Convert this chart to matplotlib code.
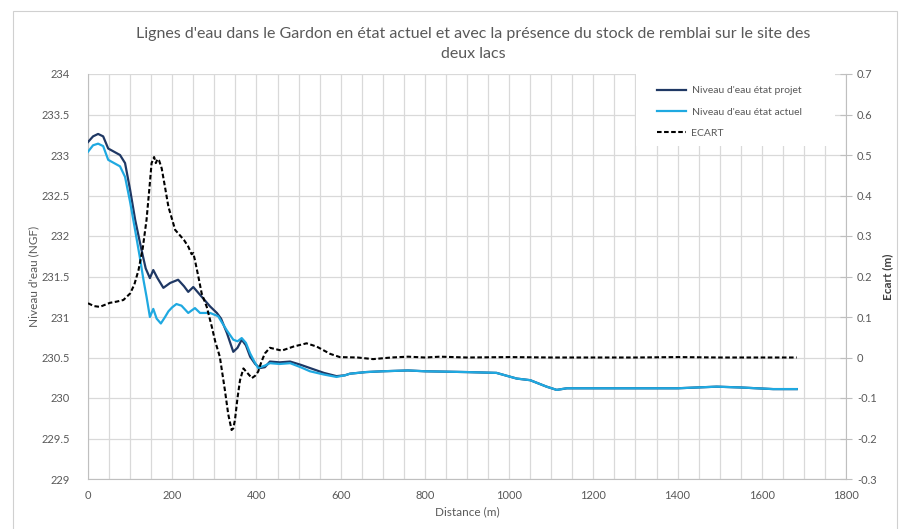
import matplotlib
matplotlib.use("Agg")
import matplotlib.pyplot as plt
from matplotlib.patches import Rectangle
from matplotlib.lines import Line2D
import numpy as np

plt.rcParams['font.family'] = ['Lato', 'DejaVu Sans']

title = "Lignes d'eau dans le Gardon en état actuel et avec la présence du stock de remblai sur le site des\ndeux lacs"

dist_projet = [0, 12, 24, 36, 48, 62, 76, 88, 100, 112, 127, 137, 147, 155, 165, 179, 195, 214, 228,
               238, 250, 270, 290, 306, 316, 330, 345, 355, 365, 375, 385, 397, 408, 420, 432, 455,
               480, 505, 527, 560, 590, 610, 622, 660, 700, 760, 800, 900, 970, 1018, 1050, 1089,
               1113, 1137, 1200, 1300, 1400, 1493, 1550, 1588, 1627, 1683]
niveau_projet = [233.16, 233.23, 233.26, 233.23, 233.08, 233.04, 233.00, 232.90, 232.57, 232.20,
                 231.83, 231.60, 231.48, 231.58, 231.48, 231.36, 231.42, 231.46, 231.38, 231.31,
                 231.37, 231.25, 231.13, 231.05, 230.98, 230.80, 230.57, 230.62, 230.72, 230.65,
                 230.51, 230.42, 230.37, 230.38, 230.45, 230.44, 230.45, 230.41, 230.37, 230.31,
                 230.27, 230.28, 230.30, 230.32, 230.33, 230.34, 230.33, 230.32, 230.31, 230.24,
                 230.22, 230.14, 230.10, 230.12, 230.12, 230.12, 230.12, 230.14, 230.13, 230.12,
                 230.11, 230.11]

dist_actuel = [0, 12, 24, 36, 48, 62, 76, 88, 100, 112, 123, 132, 139, 147, 155, 163, 173, 183, 191,
               200, 210, 222, 238, 254, 266, 290, 309, 329, 345, 355, 365, 375, 385, 395, 404, 420,
               432, 455, 480, 505, 527, 560, 590, 610, 622, 660, 700, 760, 800, 900, 970, 1018, 1050,
               1089, 1113, 1137, 1200, 1300, 1400, 1493, 1550, 1588, 1627, 1683]
niveau_actuel = [233.04, 233.12, 233.14, 233.11, 232.94, 232.90, 232.86, 232.73, 232.42, 232.07,
                 231.74, 231.45, 231.25, 231.00, 231.10, 230.98, 230.92, 231.00, 231.07, 231.12,
                 231.16, 231.14, 231.05, 231.11, 231.05, 231.05, 231.01, 230.84, 230.72, 230.70,
                 230.74, 230.68, 230.55, 230.45, 230.37, 230.40, 230.43, 230.42, 230.43, 230.38,
                 230.33, 230.29, 230.26, 230.28, 230.30, 230.32, 230.33, 230.34, 230.33, 230.32,
                 230.31, 230.24, 230.22, 230.14, 230.10, 230.12, 230.12, 230.12, 230.12, 230.14,
                 230.13, 230.12, 230.11, 230.11]

dist_ecart = [0, 14, 28, 40, 52, 68, 84, 100, 110, 120, 130, 139, 146, 151, 157, 161, 165, 169, 175,
              183, 191, 200, 207, 218, 228, 238, 246, 250, 254, 262, 270, 282, 294, 302, 313, 325,
              333, 341, 345, 349, 355, 361, 369, 380, 389, 397, 404, 412, 420, 432, 460, 488, 519,
              543, 575, 598, 640, 677, 720, 760, 800, 836, 900, 1000, 1100, 1200, 1300, 1400, 1500,
              1600, 1683]
ecart = [0.134, 0.127, 0.125, 0.130, 0.135, 0.138, 0.142, 0.158, 0.180, 0.216, 0.270, 0.340, 0.420,
         0.480, 0.495, 0.480, 0.490, 0.486, 0.467, 0.420, 0.372, 0.340, 0.315, 0.302, 0.290, 0.274,
         0.255, 0.258, 0.240, 0.200, 0.158, 0.125, 0.076, 0.040, 0.002, -0.080, -0.140, -0.179,
         -0.175, -0.154, -0.100, -0.056, -0.027, -0.040, -0.051, -0.045, -0.035, -0.010, 0.010,
         0.024, 0.017, 0.027, 0.035, 0.027, 0.009, 0.001, 0.000, -0.004, 0.000, 0.002, 0.000, 0.002,
         0.000, 0.001, 0.000, 0.000, 0.000, 0.001, 0.000, 0.000, 0.000]

left_ticks = [229, 229.5, 230, 230.5, 231, 231.5, 232, 232.5, 233, 233.5, 234]
left_labels = ["229", "229.5", "230", "230.5", "231", "231.5", "232", "232.5", "233", "233.5", "234"]
right_ticks = [-0.3, -0.2, -0.1, 0, 0.1, 0.2, 0.3, 0.4, 0.5, 0.6, 0.7]
right_labels = ["-0.3", "-0.2", "-0.1", "0", "0.1", "0.2", "0.3", "0.4", "0.5", "0.6", "0.7"]
x_ticks = [0, 200, 400, 600, 800, 1000, 1200, 1400, 1600, 1800]

GRAY = "#595959"
GRID = "#d9d9d9"
DARK = "#1f3864"
LIGHT = "#1fa9e1"
DASH = (0, (2.2, 1.2))

fig = plt.figure(figsize=(9.1, 5.29), dpi=100)
fig.patches.append(Rectangle((13 / 910, -0.01), 884 / 910, 1 - 11 / 529 + 0.01,
                             transform=fig.transFigure, fill=False, edgecolor="#d0d0d0", lw=0.8))
AX_L, AX_R, AX_T, AX_B = 88, 846, 74, 479
ax = fig.add_axes([AX_L / 910, 1 - AX_B / 529, (AX_R - AX_L) / 910, (AX_B - AX_T) / 529])
ax2 = ax.twinx()


def axfrac_x(px):
    return (px - AX_L) / (AX_R - AX_L)


def axfrac_y(py):
    return (AX_B - py) / (AX_B - AX_T)


ax.plot(dist_projet, niveau_projet, color=DARK, lw=1.6, zorder=3)
ax.plot(dist_actuel, niveau_actuel, color=LIGHT, lw=1.6, zorder=3)
ax2.plot(dist_ecart, ecart, color="black", lw=1.5, ls=DASH)

ax.set_xlim(0, 1800)
ax.set_ylim(229, 234)
ax2.set_ylim(-0.3, 0.7)
ax.set_xticks(x_ticks)
ax.set_xticks(np.arange(0, 1801, 50), minor=True)
ax.set_yticks(left_ticks)
ax.set_yticklabels(left_labels)
ax2.set_yticks(right_ticks)
ax2.set_yticklabels(right_labels)

ax.grid(True, which="both", axis="x", color=GRID, lw=0.9)
ax.grid(True, which="major", axis="y", color=GRID, lw=0.9)
ax.set_axisbelow(True)

# white legend background hiding the grid
ax.add_patch(Rectangle((axfrac_x(636), axfrac_y(146)), axfrac_x(835) - axfrac_x(636),
                       axfrac_y(74) - axfrac_y(146), transform=ax.transAxes,
                       facecolor="white", edgecolor="none", zorder=1))

for a in (ax, ax2):
    for s in a.spines.values():
        s.set_visible(False)
ax.spines["bottom"].set_visible(True)
ax.spines["bottom"].set_color("#bfbfbf")
ax.spines["left"].set_visible(True)
ax.spines["left"].set_color("#bfbfbf")
ax2.spines["right"].set_visible(True)
ax2.spines["right"].set_color("#bfbfbf")

ax.tick_params(axis="x", which="both", length=0, labelsize=8, labelcolor=GRAY, pad=8)
ax.tick_params(axis="y", length=0, labelsize=8, labelcolor=GRAY, pad=13)
ax2.tick_params(axis="y", direction="inout", length=8, color="#bfbfbf", labelsize=8,
                labelcolor=GRAY, pad=4)

ax.set_xlabel("Distance (m)", fontsize=8.5, color=GRAY)
ax.set_ylabel("Niveau d'eau (NGF)", fontsize=8.5, color=GRAY)
ax2.set_ylabel("Ecart (m)", fontsize=8.5, color="#404040", fontweight="bold")
ax.xaxis.set_label_coords(0.5, axfrac_y(512), transform=ax.transAxes)
ax.yaxis.set_label_coords(axfrac_x(34), 0.5, transform=ax.transAxes)
ax2.yaxis.set_label_coords(axfrac_x(888), 0.5, transform=ax2.transAxes)
ax.xaxis.label.set_va("center")
ax.yaxis.label.set_va("center")
ax2.yaxis.label.set_va("center")

fig.text(0.52, 1 - 44 / 529, title, ha="center", va="center", fontsize=11.5, color=GRAY,
         linespacing=1.55)

handles = [Line2D([], [], color=DARK, lw=1.6), Line2D([], [], color=LIGHT, lw=1.6),
           Line2D([], [], color="black", lw=1.5, ls=DASH)]
labels = ["Niveau d'eau état projet", "Niveau d'eau état actuel", "ECART"]
leg = ax2.legend(handles, labels, loc="upper left", bbox_to_anchor=(axfrac_x(654), axfrac_y(83)),
                 frameon=False, fontsize=7.5, handlelength=2.8, handletextpad=0.5,
                 labelspacing=1.15, borderpad=0.3, borderaxespad=0.0)
for t in leg.get_texts():
    t.set_color(GRAY)

fig.savefig("out.png", dpi=100)
